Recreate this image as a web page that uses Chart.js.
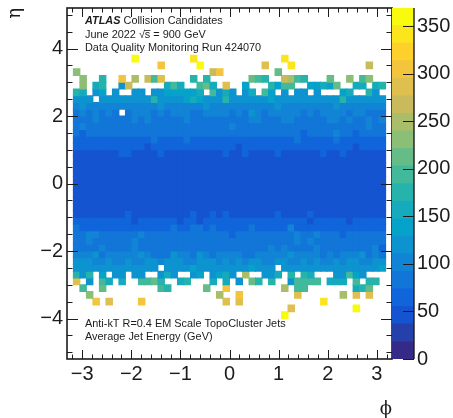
<!DOCTYPE html>
<html>
<head>
<meta charset="utf-8">
<title>Average Jet Energy</title>
<script src="https://cdn.jsdelivr.net/npm/chart.js@4/dist/chart.umd.min.js"></script>
<style>
  body { margin: 0; background: #fff; }
  canvas { position: absolute; left: 0; top: 0; }
</style>
</head>
<body>
<canvas id="mapChart" width="453" height="418"></canvas>
<canvas id="paletteChart" width="453" height="418"></canvas>
<script>
// empty bin
const _ = null;

const phiMin = -3.18;
const phiMax = 3.18;
const phiBins = 48;
const etaBin = 0.2;

// top edge of each eta row
const etaTop = [3.8, 3.6, 3.4, 3.2, 3.0, 2.8, 2.6, 2.4, 2.2, 2.0, 1.8, 1.6, 1.4, 1.2, 1.0, 0.8, 0.6, 0.4, 0.2,
  0, -0.2, -0.4, -0.6, -0.8, -1.0, -1.2, -1.4, -1.6, -1.8, -2.0, -2.2, -2.4, -2.6, -2.8, -3.0, -3.2, -3.4, -3.6, -3.8];

// average jet energy (GeV) read per cell, one line per eta row
const energyRows = [
  [_,_,_,_,_,_,_,_,_,360,_,_, _,_,_,_,_,_,335,_,_,_,_,_, _,_,_,_,_,_,_,_,340,_,_,_, _,_,_,_,_,_,_,_,_,_,_,_],
  [_,_,_,_,_,_,_,_,_,_,_,_, _,305,_,_,_,_,_,355,_,_,_,_, _,_,_,_,_,295,_,_,_,350,_,_, _,_,_,_,_,_,_,_,_,262,_,_],
  [228,_,_,_,_,_,_,_,_,_,_,_, _,_,_,_,_,_,_,_,_,275,310,_, _,_,_,_,_,_,_,212,_,_,_,_, _,_,_,_,_,_,_,_,_,_,_,_],
  [_,222,_,_,178,_,_,300,_,242,_,262, 190,282,_,_,_,_,176,_,175,_,_,_, _,_,_,218,196,180,_,_,272,250,190,175, _,_,_,205,_,_,226,_,196,226,_,_],
  [_,222,_,165,170,_,_,128,262,_,_,_, _,_,165,196,150,_,_,190,215,166,_,290, _,_,130,_,_,_,172,130,185,200,_,_, 135,138,150,132,214,_,_,166,166,_,150,172],
  [168,162,_,116,132,_,122,_,_,120,122,_, 116,118,130,136,146,136,132,166,_,190,126,150, 120,_,122,166,_,198,138,_,125,_,120,122, _,116,_,_,_,132,150,_,_,172,122,_],
  [118,122,114,_,116,118,116,120,113,114,116,112, 172,118,124,128,125,130,150,146,125,118,116,168, 122,118,116,120,118,124,142,128,120,124,118,122, 116,114,120,118,124,170,120,118,122,126,116,118],
  [100,112,104,98,100,104,102,100,104,101,98,103, 100,114,102,106,104,100,104,102,112,100,103,108, 104,100,103,105,100,104,102,112,100,104,101,103, 100,106,103,100,112,101,98,103,106,100,104,102],
  [86,98,84,96,82,98,80,_,84,96,98,97, 82,100,84,96,98,99,86,82,96,99,97,95, 84,98,86,118,96,84,97,99,100,98,96,84, 97,84,96,98,100,97,82,99,96,84,86,82],
  [80,82,84,96,78,80,82,78,84,97,80,94, 76,78,82,80,84,96,78,80,82,78,84,80, 76,82,80,95,96,84,80,78,96,97,82,80, 78,84,80,97,96,82,94,78,76,95,82,96],
  [78,94,76,80,78,75,82,78,80,76,82,78, 80,76,78,82,75,80,78,76,80,82,78,76, 98,78,80,76,82,78,80,76,78,82,76,80, 78,76,82,78,80,76,82,78,76,96,80,78],
  [76,70,78,75,80,76,78,75,78,76,80,76, 78,75,76,80,76,78,75,76,78,80,75,76, 78,76,80,75,78,76,76,78,75,76,78,68, 80,78,76,80,94,78,76,70,78,76,75,78],
  [62,65,68,64,60,66,63,65,62,66,64,60, 76,64,62,66,63,78,64,62,66,60,65,62, 66,63,60,65,62,66,64,60,62,66,76,62, 65,64,60,66,78,62,65,63,60,64,66,62],
  [58,60,62,57,61,58,60,63,58,60,62,52, 60,58,62,57,61,59,60,58,62,57,61,60, 58,52,60,62,57,59,61,60,58,62,57,60, 59,62,58,60,57,61,59,52,60,58,62,60],
  [50,48,52,49,51,47,50,57,56,48,52,50, 49,56,51,48,50,52,47,50,49,51,48,58, 50,52,57,49,51,48,50,56,52,47,50,49, 51,48,57,50,52,56,49,51,48,50,52,47],
  [46,44,47,45,48,44,46,47,45,43,47,46, 44,48,45,47,43,46,44,47,45,48,46,44, 47,45,43,46,48,44,47,45,46,43,47,44, 46,45,48,44,47,46,43,45,47,44,46,48],
  [44,46,43,45,42,47,44,46,43,45,44,42, 46,43,45,47,44,42,46,43,45,44,47,43, 45,42,46,44,43,47,45,42,44,46,43,45, 44,47,42,45,43,46,44,42,47,45,43,46],
  [42,44,41,43,45,42,44,40,43,41,45,42, 44,41,43,40,45,42,44,41,43,45,40,42, 44,41,43,45,42,40,44,43,41,45,42,44, 40,43,41,45,42,44,43,41,40,42,45,43],
  [41,43,40,42,44,41,39,43,40,42,44,41, 43,40,42,39,44,41,43,40,42,44,41,39, 43,42,40,44,41,43,39,42,40,44,41,43, 42,40,39,44,41,43,40,42,44,39,41,43],
  [40,42,41,39,43,40,42,44,41,39,43,40, 42,41,39,44,40,42,43,41,39,40,44,42, 41,39,43,40,42,44,41,39,43,40,42,41, 44,39,40,43,42,41,39,44,40,42,43,41],
  [42,44,41,43,40,42,44,41,43,45,40,42, 44,41,43,40,45,42,41,44,43,40,42,45, 41,43,44,40,42,45,43,41,44,40,42,43, 45,41,44,42,40,43,45,41,42,44,40,43],
  [44,42,45,43,46,44,41,45,43,42,46,44, 41,45,43,46,42,44,45,41,43,46,44,42, 45,43,41,46,44,42,45,43,46,41,44,42, 43,46,45,41,44,42,46,43,45,44,41,42],
  [46,48,45,44,47,46,43,47,45,48,44,46, 47,45,43,48,46,44,47,45,48,43,46,44, 47,45,48,44,43,46,47,45,44,48,46,43, 47,44,46,48,45,43,47,46,44,48,45,47],
  [50,48,51,49,47,50,52,48,56,51,49,47, 50,52,48,49,51,47,57,50,52,56,48,57, 49,51,47,50,52,48,49,56,51,47,50,52, 57,48,50,52,47,49,51,48,50,52,47,49],
  [60,62,58,61,57,60,63,59,62,52,58,61, 60,57,62,59,52,60,58,52,61,59,62,57, 60,58,62,59,57,61,60,58,62,57,59,61, 52,60,58,62,59,57,52,60,62,58,61,59],
  [76,66,62,65,60,66,63,65,62,66,64,60, 63,64,62,76,63,66,78,77,64,78,65,62, 66,63,60,77,62,66,64,60,62,96,63,62, 65,64,60,66,64,62,65,63,60,64,66,62],
  [80,78,96,97,76,80,78,82,80,76,95,78, 80,76,78,82,75,80,78,76,80,82,78,76, 70,78,80,76,82,78,80,76,78,82,97,80, 78,96,82,78,80,70,82,78,76,80,78,82],
  [78,76,97,82,80,76,78,82,75,96,78,80, 76,82,78,75,80,82,76,78,80,75,82,78, 76,80,78,82,76,75,80,78,82,76,95,80, 96,82,78,76,80,82,78,75,80,76,82,78],
  [80,76,84,78,96,82,76,80,84,97,78,82, 76,80,84,78,82,76,80,84,78,82,76,80, 84,78,82,76,80,84,95,78,96,82,76,80, 84,96,78,82,76,80,84,78,82,76,97,70],
  [97,99,96,118,84,98,96,100,97,99,120,97, 82,84,80,119,96,98,84,118,99,82,97,100, 96,98,84,82,96,99,97,100,98,116,96,99, 97,100,84,98,82,97,96,99,118,84,98,82],
  [112,124,126,108,104,112,106,110,114,104,108,112, 118,108,112,116,114,108,106,116,122,112,110,118, 110,124,106,112,114,108,110,118,112,106,110,114, 108,112,106,110,116,108,112,118,110,106,112,124],
  [122,118,126,124,120,118,122,126,118,120,124,118, 122,_,126,120,118,124,132,128,122,120,126,124, 118,122,120,136,124,118,122,_,120,126,122,118, 124,120,118,122,126,120,128,124,118,122,126,130],
  [172,122,182,_,135,_,120,122,_,120,122,_, _,118,150,122,_,_,120,130,_,120,130,152, 118,_,255,_,_,120,122,150,_,172,_,168, 150,_,_,_,118,120,200,130,120,_,_,_],
  [290,_,125,_,200,165,_,165,_,_,196,186, 205,170,_,_,165,170,_,_,_,165,_,165, _,125,_,215,176,_,170,_,_,125,200,186, 190,196,_,160,160,165,_,196,_,180,175,_],
  [_,186,_,_,205,_,_,_,_,_,_,_, _,196,170,_,_,_,_,_,210,_,_,300, _,_,_,_,_,_,_,_,242,_,200,196, _,_,_,_,_,_,_,160,180,215,_,_],
  [_,_,236,_,_,_,_,_,_,_,_,_, _,_,_,_,_,_,_,_,_,_,250,_, _,300,_,_,_,_,_,_,_,_,285,_, _,_,_,_,_,240,_,280,_,292,_,_],
  [_,_,_,300,_,280,_,_,_,_,298,_, _,_,_,_,_,_,_,_,_,_,_,285, _,280,_,_,_,_,_,_,_,_,_,_, _,_,338,_,_,_,_,_,_,_,_,_],
  [_,_,_,_,_,_,_,_,_,_,_,_, _,_,_,_,_,_,_,_,_,_,_,_, _,_,_,_,_,_,_,_,_,290,_,_, _,_,_,_,_,_,_,352,_,_,_,_],
  [_,_,_,_,_,_,_,_,_,_,_,_, _,_,_,_,_,_,_,_,_,_,_,_, _,_,_,_,_,_,_,_,362,_,_,_, _,_,_,_,_,_,_,_,_,_,_,_]
];

const xTickValues = [-3, -2, -1, 0, 1, 2, 3];
const yTickValues = [-4, -2, 0, 2, 4];
const zTickValues = [0, 50, 100, 150, 200, 250, 300, 350];
const zMax = 369;
const zLevels = 20;

// kBird palette stops
const birdStops = [
  [0.2082, 0.1664, 0.5293], [0.0592, 0.3599, 0.8684], [0.0780, 0.5041, 0.8385],
  [0.0232, 0.6419, 0.7914], [0.1802, 0.7178, 0.6425], [0.5301, 0.7492, 0.4662],
  [0.8186, 0.7328, 0.3499], [0.9956, 0.7862, 0.1968], [0.9764, 0.9832, 0.0539]
];

const inkColor = '#1c1c1c';
const sansFont = '"Liberation Sans", Arial, sans-serif';
const serifFont = '"DejaVu Serif", "Liberation Serif", serif';

function birdColor(t) {
  const pos = t * (birdStops.length - 1);
  const low = Math.min(Math.floor(pos), birdStops.length - 2);
  const frac = pos - low;
  const rgb = birdStops[low].map((c, i) => Math.round(255 * (c + (birdStops[low + 1][i] - c) * frac)));
  return `rgb(${rgb[0]}, ${rgb[1]}, ${rgb[2]})`;
}

const palette = [];
for (let k = 0; k < zLevels; k++) {
  palette.push(birdColor(k / (zLevels - 1)));
}

function energyColor(value) {
  const level = Math.min(zLevels - 1, Math.floor(value / (zMax / zLevels)));
  return palette[level];
}

function phiCentre(col) {
  return phiMin + (col + 0.5) * (phiMax - phiMin) / phiBins;
}

function minusSign(value) {
  return String(value).replace('-', '\u2212');
}

// the frame is pinned by hand, so drop the room chart.js keeps for label overhang
function pinScale(scale, size) {
  if (scale.isHorizontal()) {
    scale.height = size;
    scale.paddingLeft = 0;
    scale.paddingRight = 0;
  } else {
    scale.width = size;
    scale.paddingTop = 0;
    scale.paddingBottom = 0;
  }
}

// one floating-bar dataset per eta row
function buildRowDatasets() {
  return energyRows.map((row, r) => {
    if (row.length !== phiBins) {
      throw new Error('row ' + r + ' has ' + row.length + ' cells');
    }
    const cells = [];
    row.forEach((value, col) => {
      if (value !== null) {
        cells.push({ x: phiCentre(col), y: [etaTop[r] - etaBin, etaTop[r]], energy: value });
      }
    });
    return {
      data: cells,
      backgroundColor: cells.map(c => energyColor(c.energy)),
      borderWidth: 0,
      inflateAmount: 0.5,
      barPercentage: 1,
      categoryPercentage: 1,
      grouped: false
    };
  });
}

function strokeLine(ctx, x1, y1, x2, y2) {
  ctx.beginPath();
  ctx.moveTo(x1, y1);
  ctx.lineTo(x2, y2);
  ctx.stroke();
}

// inward ticks on all four sides, ROOT style
const frameTicks = {
  id: 'frameTicks',
  afterDatasetsDraw(chart) {
    const { ctx, chartArea: area, scales } = chart;
    ctx.save();
    ctx.strokeStyle = inkColor;
    ctx.lineWidth = 1;
    for (let i = -16; i <= 16; i++) {
      const v = i / 5;
      const len = i % 5 === 0 ? 9 : 4.5;
      const px = Math.round(scales.x.getPixelForValue(v)) + 0.5;
      strokeLine(ctx, px, area.bottom, px, area.bottom - len);
      strokeLine(ctx, px, area.top, px, area.top + len);
    }
    for (let i = -10; i <= 10; i++) {
      const v = i / 2;
      const len = i % 4 === 0 ? 11 : 5.5;
      const py = Math.round(scales.y.getPixelForValue(v)) + 0.5;
      strokeLine(ctx, area.left, py, area.left + len, py);
      strokeLine(ctx, area.right, py, area.right - len, py);
    }
    ctx.lineWidth = 1.6;
    ctx.strokeRect(area.left, area.top, area.right - area.left, area.bottom - area.top);
    ctx.restore();
  }
};

// ATLAS labels inside the frame
const atlasLabels = {
  id: 'atlasLabels',
  afterDraw(chart) {
    const ctx = chart.ctx;
    const plainFont = '10.9px ' + sansFont;
    const left = 85;
    ctx.save();
    ctx.fillStyle = inkColor;
    ctx.textBaseline = 'middle';
    ctx.textAlign = 'left';

    ctx.font = 'italic bold 10.9px ' + sansFont;
    ctx.fillText('ATLAS', left, 21);
    const atlasWidth = ctx.measureText('ATLAS ').width;
    ctx.font = plainFont;
    ctx.fillText('Collision Candidates', left + atlasWidth, 21);

    const before = 'June 2022 \u221A';
    ctx.fillText(before + 's = 900 GeV', left, 35);
    const barLeft = left + ctx.measureText(before).width;
    const barWidth = ctx.measureText('s').width;
    ctx.strokeStyle = inkColor;
    ctx.lineWidth = 0.8;
    strokeLine(ctx, barLeft - 0.5, 30.5, barLeft + barWidth, 30.5);

    ctx.fillText('Data Quality Monitoring Run 424070', left, 48);
    ctx.fillText('Anti-kT R=0.4 EM Scale TopoCluster Jets', left, 324);
    ctx.fillText('Average Jet Energy (GeV)', left, 337);
    ctx.restore();
  }
};

const paletteTicks = {
  id: 'paletteTicks',
  afterDatasetsDraw(chart) {
    const { ctx, chartArea: area, scales } = chart;
    ctx.save();
    ctx.strokeStyle = inkColor;
    ctx.lineWidth = 1;
    zTickValues.forEach(v => {
      const py = Math.round(scales.y.getPixelForValue(v)) + 0.5;
      strokeLine(ctx, area.right, py, area.right - 11, py);
    });
    ctx.lineWidth = 1.4;
    strokeLine(ctx, area.right, area.top, area.right, area.bottom);
    ctx.restore();
  }
};

function initMapChart() {
  new Chart(document.getElementById('mapChart'), {
    type: 'bar',
    data: { datasets: buildRowDatasets() },
    plugins: [frameTicks, atlasLabels],
    options: {
      responsive: false,
      animation: false,
      layout: { padding: { top: 8, right: 61, left: 0, bottom: 0 } },
      plugins: { legend: { display: false }, tooltip: { enabled: false } },
      scales: {
        x: {
          type: 'linear',
          offset: false,
          min: -3.31,
          max: 3.31,
          grid: { display: false, drawTicks: false },
          border: { display: false },
          afterBuildTicks(scale) {
            scale.ticks = xTickValues.map(v => ({ value: v }));
          },
          afterFit(scale) {
            pinScale(scale, 59);
          },
          ticks: {
            color: inkColor,
            font: { family: sansFont, size: 20 },
            padding: 3,
            maxRotation: 0,
            autoSkip: false,
            callback: minusSign
          },
          title: {
            display: true,
            text: '\u03D5',
            align: 'end',
            color: inkColor,
            font: { family: serifFont, size: 18, lineHeight: 1 },
            padding: 0
          }
        },
        y: {
          type: 'linear',
          min: -5.2,
          max: 5.2,
          grid: { display: false, drawTicks: false },
          border: { display: false },
          afterBuildTicks(scale) {
            scale.ticks = yTickValues.map(v => ({ value: v }));
          },
          afterFit(scale) {
            pinScale(scale, 67);
          },
          ticks: {
            color: inkColor,
            font: { family: sansFont, size: 20 },
            padding: 4,
            autoSkip: false,
            callback: minusSign
          },
          title: {
            display: true,
            text: '\u03B7',
            align: 'end',
            color: inkColor,
            font: { family: serifFont, size: 18, lineHeight: 1 },
            padding: { top: 6, bottom: 0 }
          }
        }
      }
    }
  });
}

function initPaletteChart() {
  const levelBars = palette.map((color, k) => ({
    data: [[k * zMax / zLevels, (k + 1) * zMax / zLevels]],
    backgroundColor: color,
    borderWidth: 0,
    barPercentage: 1,
    categoryPercentage: 1,
    grouped: false
  }));
  new Chart(document.getElementById('paletteChart'), {
    type: 'bar',
    data: { labels: ['z'], datasets: levelBars },
    plugins: [paletteTicks],
    options: {
      responsive: false,
      animation: false,
      layout: { padding: { top: 8, left: 392, right: 0, bottom: 59 } },
      plugins: { legend: { display: false }, tooltip: { enabled: false } },
      scales: {
        x: { display: false },
        y: {
          position: 'right',
          min: 0,
          max: zMax,
          grid: { display: false, drawTicks: false },
          border: { display: false },
          afterBuildTicks(scale) {
            scale.ticks = zTickValues.map(v => ({ value: v }));
          },
          afterFit(scale) {
            pinScale(scale, 39);
          },
          ticks: {
            color: inkColor,
            font: { family: sansFont, size: 20 },
            padding: 3,
            autoSkip: false
          }
        }
      }
    }
  });
}

initMapChart();
initPaletteChart();
</script>
</body>
</html>
